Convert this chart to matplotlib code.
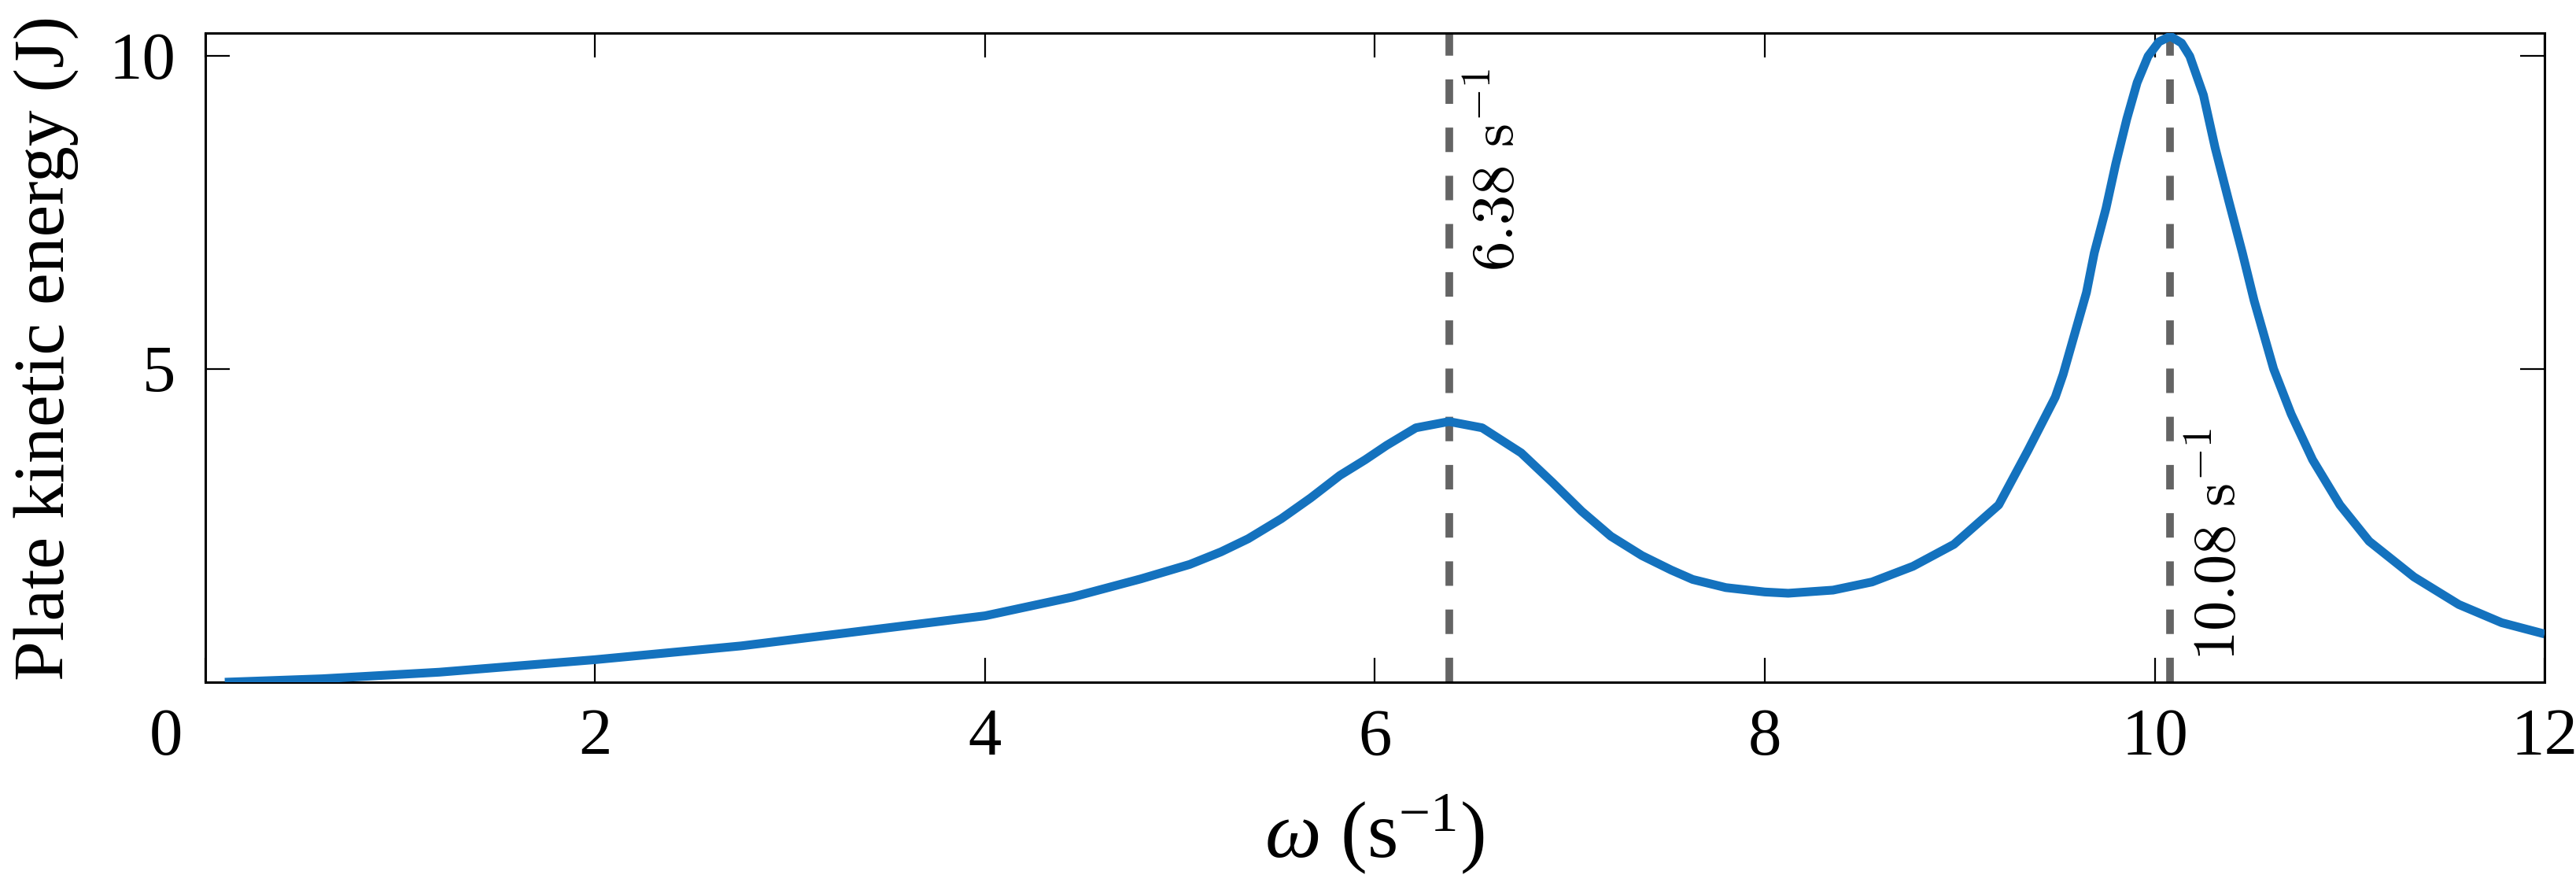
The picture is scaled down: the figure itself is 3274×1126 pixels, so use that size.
import matplotlib
matplotlib.use("Agg")
import matplotlib.pyplot as plt
import matplotlib.transforms as mtrans

# ---- data ----
omega = [0.1, 0.6, 1.2, 2.0, 2.75, 3.35, 4.0, 4.45, 4.8, 5.05, 5.21, 5.35,
         5.52, 5.67, 5.82, 5.95, 6.06, 6.21, 6.38, 6.55, 6.75, 6.91, 7.06,
         7.21, 7.37, 7.52, 7.63, 7.8, 8.0, 8.12, 8.35, 8.55, 8.76, 8.97, 9.2,
         9.35, 9.49, 9.53, 9.65, 9.69, 9.75, 9.80, 9.857, 9.91, 9.966, 10.022,
         10.08, 10.138, 10.18, 10.25, 10.31, 10.38, 10.45, 10.51, 10.61, 10.7,
         10.81, 10.95, 11.1, 11.33, 11.56, 11.78, 12.0]
energy = [0.0, 0.055, 0.16, 0.36, 0.58, 0.81, 1.06, 1.36, 1.65, 1.88, 2.08,
          2.29, 2.61, 2.94, 3.30, 3.55, 3.78, 4.06, 4.16, 4.06, 3.66, 3.19,
          2.73, 2.33, 2.02, 1.79, 1.64, 1.51, 1.44, 1.42, 1.47, 1.6, 1.85, 2.2,
          2.83, 3.70, 4.55, 4.91, 6.22, 6.85, 7.56, 8.27, 8.99, 9.57, 9.99,
          10.22, 10.31, 10.2, 9.99, 9.37, 8.53, 7.68, 6.85, 6.09, 5.0, 4.28,
          3.55, 2.83, 2.25, 1.68, 1.24, 0.95, 0.77]
peak_freqs = [6.38, 10.08]
peak_labels = [r'$6.38\ \mathrm{s}^{-1}$', r'$10.08\ \mathrm{s}^{-1}$']
xticks = [0, 2, 4, 6, 8, 10, 12]
yticks = [0, 5, 10]
ytick_labels = ['', '5', '10']

plt.rcParams['font.family'] = ['Liberation Serif', 'DejaVu Serif']
plt.rcParams['mathtext.fontset'] = 'custom'
plt.rcParams['mathtext.rm'] = 'Liberation Serif'
plt.rcParams['mathtext.it'] = 'Liberation Serif:italic'

DPI = 100
fig = plt.figure(figsize=(32.74, 11.26), dpi=DPI)
ax = fig.add_axes([0.0797, 0.230, 0.9081, 0.7327])

blue = '#1472BE'
gray = '#646464'

ax.plot(omega, energy, color=blue, lw=8, solid_capstyle='butt',
        solid_joinstyle='round', zorder=3)

ymax = 10.36
for f in peak_freqs:
    ax.plot([f, f], [0, ymax], color=gray, lw=7, linestyle=(0, (3.2, 3.1)),
            dash_capstyle='butt', zorder=2)

off = mtrans.ScaledTranslation(20 / 72, 0, fig.dpi_scale_trans)
ax.text(peak_freqs[0], 9.79, peak_labels[0], rotation=90, ha='left', va='top',
        fontsize=55, math_fontfamily='cm', transform=ax.transData + off)
ax.text(peak_freqs[1], 0.34, peak_labels[1], rotation=90, ha='left', va='bottom',
        fontsize=55, math_fontfamily='cm', transform=ax.transData + off)

ax.set_xlim(0, 12)
ax.set_ylim(0, ymax)
ax.set_xticks(xticks)
ax.set_xticklabels([str(t) for t in xticks])
ax.set_yticks(yticks)
ax.set_yticklabels(ytick_labels)

ax.tick_params(axis='both', which='major', direction='in', length=22, width=1.6,
               labelsize=61, top=True, right=True, pad=24)
ax.tick_params(axis='y', pad=27)

# shift the "0" label left, as in the reference
lbl0 = ax.get_xticklabels()[0]
lbl0.set_transform(lbl0.get_transform() +
                   mtrans.ScaledTranslation(-36 / 72, 0, fig.dpi_scale_trans))

for s in ax.spines.values():
    s.set_linewidth(2.2)

ax.set_xlabel(r'$\omega$ (s$^{-1}$)', fontsize=73)
ax.xaxis.set_label_coords(0.5, -0.17)
ax.set_ylabel('Plate kinetic energy (J)', fontsize=66, va='center')
ax.yaxis.set_label_coords(-0.068, 0.515)

fig.savefig('out.png', dpi=DPI)
